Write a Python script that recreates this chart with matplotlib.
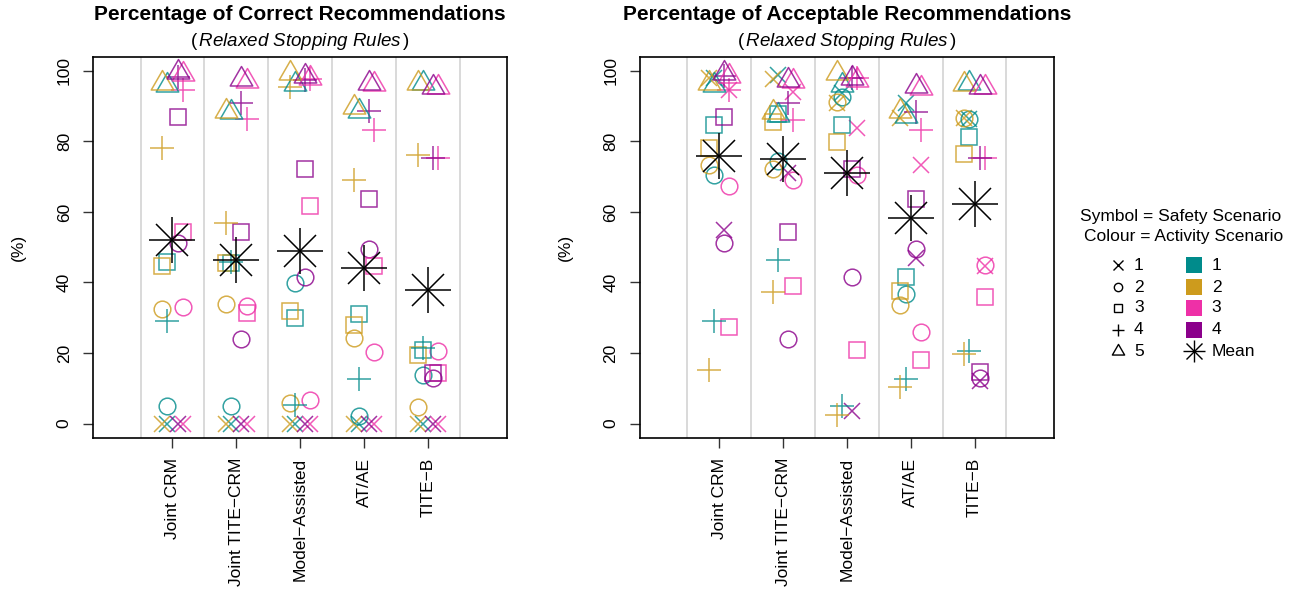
import numpy as np
import matplotlib
matplotlib.use('Agg')
import matplotlib.pyplot as plt
from matplotlib.path import Path

plt.rcParams['font.family'] = ['Liberation Sans', 'DejaVu Sans']
plt.rcParams['mathtext.fontset'] = 'custom'
plt.rcParams['mathtext.rm'] = 'Liberation Sans'
plt.rcParams['mathtext.it'] = 'Liberation Sans:italic'

# ---------------- data ----------------
methods = ["Joint CRM", "Joint TITE\u2212CRM", "Model\u2212Assisted", "AT/AE", "TITE\u2212B"]
activity_labels = ["1", "2", "3", "4"]
safety_labels = ["1", "2", "3", "4", "5"]
activity_colours = ['#008B8B', '#CD9B1D', '#EE30A7', '#8B008B']

# rows = activity scenario 1..4, columns = methods
correct_s1 = [[0, 0, 0, 0, 0],
              [0, 0, 0, 0, 0],
              [0, 0, 0, 0, 0],
              [0, 0, 0, 0, 0]]
correct_s2 = [[4.9, 5.1, 39.9, 2.1, 13.9],
              [32.5, 34.0, 5.7, 24.3, 4.7],
              [33.0, 33.2, 6.8, 20.2, 20.5],
              [51.2, 24.0, 41.5, 49.6, 12.9]]
correct_s3 = [[45.9, 45.5, 30.0, 31.1, 21.0],
              [44.8, 45.5, 31.9, 28.0, 19.5],
              [54.2, 31.4, 61.8, 44.8, 14.4],
              [87.0, 54.2, 72.1, 63.6, 14.4]]
correct_s4 = [[29.0, 45.7, 5.4, 12.5, 21.5],
              [78.0, 56.8, 95.5, 69.1, 76.2],
              [94.6, 86.3, 97.8, 83.3, 75.3],
              [98.2, 90.8, 97.5, 88.5, 75.3]]
correct_s5 = [[96.0, 88.3, 96.4, 88.5, 96.6],
              [96.6, 88.6, 99.4, 89.8, 96.6],
              [99.2, 97.0, 98.0, 96.4, 95.5],
              [99.8, 97.8, 98.4, 96.6, 95.5]]
correct_mean = [52.1, 46.3, 48.9, 44.2, 37.8]

accept_s1 = [[98.0, 98.9, 93.7, 90.8, 86.2],
             [97.9, 97.6, 91.0, 86.6, 86.6],
             [94.6, 94.1, 83.7, 73.4, 44.6],
             [55.0, 71.0, 3.5, 46.9, 12.0]]
accept_s2 = [[70.5, 74.3, 92.7, 36.8, 86.4],
             [73.4, 72.1, 91.3, 33.7, 86.6],
             [67.4, 69.1, 70.5, 25.9, 45.0],
             [51.2, 24.0, 41.5, 49.6, 12.9]]
accept_s3 = [[84.7, 87.8, 84.7, 41.5, 81.2],
             [78.1, 85.6, 79.7, 37.6, 76.5],
             [27.4, 38.9, 20.8, 17.9, 35.9],
             [87.0, 54.2, 72.1, 63.6, 14.5]]
accept_s4 = [[29.0, 46.5, 5.1, 12.5, 20.5],
             [15.3, 37.2, 2.5, 10.4, 19.8],
             [94.6, 86.1, 98.0, 83.3, 75.3],
             [98.4, 90.8, 98.0, 88.2, 75.3]]
accept_s5 = [[96.0, 87.5, 96.0, 87.3, 96.6],
             [96.6, 88.3, 99.3, 88.6, 96.4],
             [98.5, 97.0, 97.5, 95.1, 95.5],
             [99.3, 97.4, 98.0, 95.7, 95.5]]
accept_mean = [75.9, 75.0, 71.0, 58.3, 62.3]

# ---------------- styles ----------------
activity_offsets = [-0.08, -0.16, 0.16, 0.08]
tri_path = Path([(0, 1.5551), (1.3468, -0.7776), (-1.3468, -0.7776), (0, 1.5551)],
                [Path.MOVETO, Path.LINETO, Path.LINETO, Path.CLOSEPOLY])
safety_markers = ['x', 'o', 's', '+', tri_path]
safety_sizes = [11.5, 12.0, 11.5, 17.0, 18.7]
legend_sizes = [6.5, 6.0, 5.8, 8.9, 10.2]

W, H = 1300, 596
fig = plt.figure(figsize=(W / 100, H / 100), dpi=100)

def px_box(x0, x1, ytop, ybot):
    return [x0 / W, 1 - ybot / H, (x1 - x0) / W, (ybot - ytop) / H]

panels = [
    dict(box=px_box(93.3, 507.0, 56.7, 437.7),
         data=[correct_s1, correct_s2, correct_s3, correct_s4, correct_s5],
         mean=correct_mean,
         title="Percentage of Correct Recommendations", ylab_x=18),
    dict(box=px_box(640.0, 1053.7, 56.7, 437.7),
         data=[accept_s1, accept_s2, accept_s3, accept_s4, accept_s5],
         mean=accept_mean,
         title="Percentage of Acceptable Recommendations", ylab_x=565),
]

xpos = np.arange(1, len(methods) + 1)
for p in panels:
    ax = fig.add_axes(p['box'])
    ax.set_xlim(-0.24, 6.24)
    ax.set_ylim(-4, 104)
    for v in np.arange(0.5, len(methods) + 1, 1.0):
        ax.axvline(v, color='#D3D3D3', lw=1.2, zorder=0)
    for s, arr in enumerate(p['data']):
        for a in range(len(activity_labels)):
            ax.plot(xpos + activity_offsets[a], arr[a], linestyle='none',
                    marker=safety_markers[s], ms=safety_sizes[s],
                    mfc='none', mec=activity_colours[a], mew=1.1,
                    alpha=0.8, zorder=2)
    ax.plot(xpos, p['mean'], linestyle='none', marker='+', ms=33,
            mec='black', mew=1.1, zorder=3)
    ax.plot(xpos, p['mean'], linestyle='none', marker='x', ms=23.5,
            mec='black', mew=1.1, zorder=3)
    ax.set_xticks(xpos)
    ax.set_xticklabels(methods, rotation=90, fontsize=12.5)
    ax.set_yticks(np.arange(0, 101, 20))
    ax.set_yticklabels([str(v) for v in range(0, 101, 20)], rotation=90,
                       fontsize=12.5, va='center')
    ax.tick_params(axis='both', direction='out', length=7.5, width=1.0,
                   color='#333333')
    ax.tick_params(axis='y', pad=8)
    ax.tick_params(axis='x', pad=7)
    for sp in ax.spines.values():
        sp.set_linewidth(1.2)
        sp.set_color('black')
    # titles
    bx = p['box']
    cx = bx[0] + bx[2] / 2
    fig.text(cx, 1 - 15 / H, p['title'], ha='center', va='center',
             fontsize=15, fontweight='bold')
    fig.text(cx, 1 - 42 / H, r'($\,\mathit{Relaxed\ Stopping\ Rules}\,$)',
             ha='center', va='center', fontsize=13.5)
    fig.text(p['ylab_x'] / W, 1 - 247 / H, '(%)', rotation=90,
             ha='center', va='center', fontsize=12.5)

# ---------------- legend ----------------
lg = fig.add_axes([0, 0, 1, 1])
lg.set_xlim(0, W)
lg.set_ylim(H, 0)
lg.axis('off')
lg.text(1181, 216, "Symbol = Safety Scenario", ha='center', va='center', fontsize=12.5)
lg.text(1184, 237, "Colour = Activity Scenario", ha='center', va='center', fontsize=12.5)
row_y = [265, 287, 308, 329.5, 351]
for i, lab in enumerate(safety_labels):
    lg.plot([1117.7], [row_y[i]], linestyle='none', marker=safety_markers[i],
            ms=legend_sizes[i], mfc='none', mec='black', mew=1.0)
    lg.text(1134, row_y[i], lab, ha='left', va='center', fontsize=12.5)
for i, lab in enumerate(activity_labels):
    lg.plot([1194.3], [row_y[i]], linestyle='none', marker='s', ms=12,
            mfc=activity_colours[i], mec=activity_colours[i], mew=0)
    lg.text(1211.7, row_y[i], lab, ha='left', va='center', fontsize=12.5)
lg.plot([1194.3], [row_y[4]], linestyle='none', marker='+', ms=16.3, mec='black', mew=1.0)
lg.plot([1194.3], [row_y[4]], linestyle='none', marker='x', ms=11.5, mec='black', mew=1.0)
lg.text(1211.7, row_y[4], "Mean", ha='left', va='center', fontsize=12.5)

fig.savefig('out.png', dpi=100)
